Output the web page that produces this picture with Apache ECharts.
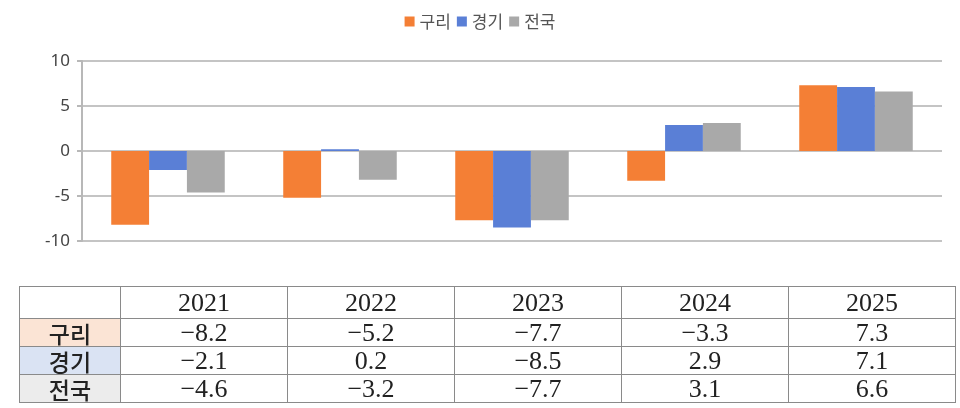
<!DOCTYPE html>
<html>
<head>
<meta charset="utf-8">
<script src="https://cdn.jsdelivr.net/npm/echarts@6/dist/echarts.min.js"></script>
<style>
  body { margin: 0; background: #fff; }
  #wrap { position: relative; width: 960px; height: 408px; }
  #chart { position: absolute; left: 0; top: 0; width: 960px; height: 408px; }
  #tbl {
    position: absolute; left: 19px; top: 286px;
    border-collapse: collapse; table-layout: fixed;
    border: 1.5px solid #8a8a8a;
  }
  #tbl td {
    border: 1px solid #8a8a8a; padding: 0; text-align: center;
    font-family: "Liberation Serif", "DejaVu Serif", serif;
    font-size: 26px; color: #222; line-height: 26px;
  }
  #tbl td.lab {
    font-family: "Noto Sans CJK KR", sans-serif; font-size: 23px; font-weight: 500;
  }
</style>
</head>
<body>
<div id="wrap">
  <div id="chart"></div>
  <table id="tbl"></table>
</div>
<script>
// 연도
var years = ["2021", "2022", "2023", "2024", "2025"];
// 지역별 값
var guri = [-8.2, -5.2, -7.7, -3.3, 7.3];
var gyeonggi = [-2.1, 0.2, -8.5, 2.9, 7.1];
var jeonguk = [-4.6, -3.2, -7.7, 3.1, 6.6];
var seriesNames = ["구리", "경기", "전국"];
var colors = ["#f47f35", "#5a7fd6", "#a9a9a9"];
var labelBg = ["#fbe4d5", "#dae3f3", "#ececec"];

var chart = echarts.init(document.getElementById("chart"));
chart.setOption({
  animation: false,
  color: colors,
  legend: {
    top: 8,
    left: "center",
    itemWidth: 10,
    itemHeight: 10,
    itemGap: 6,
    icon: "rect",
    textStyle: { fontSize: 17, color: "#555", fontFamily: "Noto Sans CJK KR" },
    data: seriesNames
  },
  grid: { left: 82, right: 18, top: 61, bottom: 167 },
  xAxis: {
    type: "category",
    data: years,
    axisLine: { show: false },
    axisTick: { show: false },
    axisLabel: { show: false }
  },
  yAxis: {
    type: "value",
    min: -10,
    max: 10,
    interval: 5,
    axisLine: { show: true, lineStyle: { color: "#b8b8b8", width: 2 } },
    axisTick: { show: true, length: 5, lineStyle: { color: "#b8b8b8", width: 2 } },
    axisLabel: { fontSize: 17, color: "#444", margin: 12, fontFamily: "Noto Sans" },
    splitLine: { lineStyle: { color: "#c4c4c4", width: 2 } }
  },
  series: [
    { name: seriesNames[0], type: "bar", data: guri, barGap: "0%", barCategoryGap: "34%" },
    { name: seriesNames[1], type: "bar", data: gyeonggi, barGap: "0%", barCategoryGap: "34%" },
    { name: seriesNames[2], type: "bar", data: jeonguk, barGap: "0%", barCategoryGap: "34%" }
  ]
});

// 아래 표
var rows = [guri, gyeonggi, jeonguk];
var fmt = function (v) { return (v < 0 ? "\u2212" : "") + Math.abs(v).toFixed(1); };
var html = "<tr style='height:32px'><td style='width:100px'></td>";
years.forEach(function (y) { html += "<td style='width:166px'>" + y + "</td>"; });
html += "</tr>";
rows.forEach(function (r, i) {
  html += "<tr style='height:28px'><td class='lab' style='background:" + labelBg[i] + "'>" + seriesNames[i] + "</td>";
  r.forEach(function (v) { html += "<td>" + fmt(v) + "</td>"; });
  html += "</tr>";
});
document.getElementById("tbl").innerHTML = html;
</script>
</body>
</html>
